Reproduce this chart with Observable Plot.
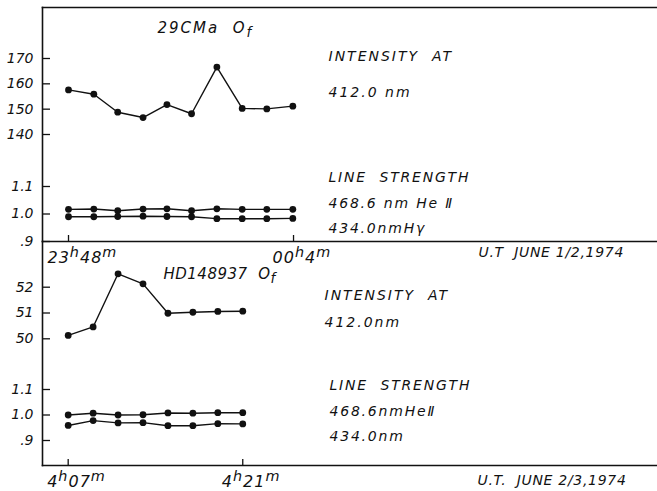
<!DOCTYPE html>
<html><head><meta charset="utf-8">
<script src="https://cdn.jsdelivr.net/npm/d3@7"></script>
<script src="https://cdn.jsdelivr.net/npm/@observablehq/plot@0.6"></script>
<style>
body{margin:0;background:#fff}
#chart{position:relative;width:657px;height:491px;background:#fff}
#chart svg{position:absolute;left:0;top:0}
</style></head><body><div id="chart"></div>
<script>
// ---- Panel A: 29 CMa, U.T. June 1/2, 1974 (minutes after 23h48m) ----
const timesA = [0, 1.8, 3.5, 5.3, 7.0, 8.75, 10.55, 12.35, 14.1, 15.95];
const intensityA = [157.6, 155.9, 148.8, 146.7, 151.8, 148.2, 166.6, 150.3, 150.1, 151.2];
const heIIA = [1.017, 1.018, 1.012, 1.018, 1.019, 1.012, 1.019, 1.017, 1.017, 1.017];
const hGammaA = [0.990, 0.990, 0.991, 0.992, 0.991, 0.990, 0.983, 0.983, 0.983, 0.984];
const xTicksA = [0, 16];
const xLabelsA = ["23{^h}48{^m}", "00{^h}4{^m}"];
const intTicksA = [140, 150, 160, 170];
const intLabelsA = ["140", "150", "160", "170"];
const strTicks = [0.9, 1.0, 1.1];
const strLabels = [".9", "1.0", "1.1"];
const titleA = "29CMa  O{_f}";
const noteIntA = "INTENSITY  AT\n412.0 nm";
const noteLineA = "LINE  STRENGTH\n468.6 nm He Ⅱ\n434.0nmHγ";
const dateA = "U.T  JUNE 1/2,1974";

// ---- Panel B: HD148937, U.T. June 2/3, 1974 (minutes after 4h07m) ----
const timesB = [0, 2, 4, 6, 8, 10, 12, 14];
const intensityB = [50.13, 50.46, 52.52, 52.13, 50.99, 51.03, 51.06, 51.07];
const heIIB = [1.000, 1.007, 1.000, 1.001, 1.008, 1.007, 1.009, 1.009];
const h434B = [0.959, 0.978, 0.969, 0.970, 0.958, 0.958, 0.966, 0.965];
const xTicksB = [0, 14];
const xLabelsB = ["4{^h}07{^m}", "4{^h}21{^m}"];
const intTicksB = [50, 51, 52];
const intLabelsB = ["50", "51", "52"];
const titleB = "HD148937  O{_f}";
const noteIntB = "INTENSITY  AT\n412.0nm";
const noteLineB = "LINE  STRENGTH\n468.6nmHeⅡ\n434.0nm";
const dateB = "U.T.  JUNE 2/3,1974";

const INK = "#111";
const W = 657, H = 491, LEFT = 42;
const rows = (times, vals) => times.map((t, i) => ({t, v: vals[i]}));
function seriesMarks(times, list) {
  return list.flatMap(vals => {
    const d = rows(times, vals);
    return [
      Plot.line(d, {x: "t", y: "v", stroke: INK, strokeWidth: 1.4}),
      Plot.dot(d, {x: "t", y: "v", r: 3.4, fill: INK, stroke: "none"})
    ];
  });
}
const labeler = (ticks, labels) => d => labels[ticks.indexOf(d)];
const baseStyle = {background: "transparent", overflow: "visible", fontFamily: "DejaVu Sans", fontSize: "14px", fontStyle: "italic", color: INK};
const spacing = [["JUNE", "0.7px"], ["CMa", "2px"], ["HD", "0.5px"], ["INTENSITY", "2px"], ["STRENGTH", "1.8px"], ["nm", "1.2px"], ["{^h}", "1px"]];

function rich(svg) {
  for (const t of svg.querySelectorAll("text")) {
    const s = t.textContent;
    const sp = spacing.find(([k]) => s.includes(k));
    if (sp) t.style.letterSpacing = sp[1];
    t.style.fontStyle = "italic";
    if (!/\{[\^_]/.test(s)) continue;
    const parts = s.split(/(\{[\^_][^}]*\})/).filter(p => p);
    t.textContent = "";
    let shift = 0;
    for (const p of parts) {
      const m = p.match(/^\{([\^_])(.*)\}$/);
      const ts = document.createElementNS("http://www.w3.org/2000/svg", "tspan");
      let target = 0;
      if (m) { target = m[1] === "^" ? -6 : 4; ts.textContent = m[2]; ts.style.fontSize = "0.9em"; }
      else ts.textContent = p;
      ts.setAttribute("dy", target - shift);
      shift = target;
      t.appendChild(ts);
    }
  }
  return svg;
}

function subplot(xDomain, top, bottom, yDomain, marks) {
  return Plot.plot({
    width: W, height: H,
    marginLeft: LEFT, marginRight: 0, marginTop: top, marginBottom: H - bottom,
    style: baseStyle,
    x: {domain: xDomain, axis: null},
    y: {domain: yDomain, axis: null},
    marks
  });
}
// y axis: labels outside, short ticks pointing into the plot
function yAxis(ticks, labels) {
  return [
    Plot.tickY(ticks, {y: d => d, insetRight: W - LEFT - 8, stroke: INK, strokeWidth: 1.3}),
    Plot.axisY({ticks, tickFormat: labeler(ticks, labels), tickSize: 0, tickPadding: 9, fill: INK, fontStyle: "italic", label: null})
  ];
}
// x axis: short upward ticks, labels below
function xAxes(ticks, labels, frameH) {
  return [
    Plot.tickX(ticks, {x: d => d, insetTop: frameH - 6, stroke: INK, strokeWidth: 1.3}),
    Plot.axisX({ticks, tickFormat: labeler(ticks, labels), tickSize: 0, tickPadding: 10, textAnchor: "start", dx: -21, fontSize: 16, fill: INK, label: null})
  ];
}
const txt = (s, dx, dy, o = {}) => Plot.text([s], {frameAnchor: "top-left", dx, dy, textAnchor: "start", lineAnchor: "middle", fill: INK, ...o});

// Panel A
const xDomA = [-1.849, 41.88];
const frameA = subplot(xDomA, 7, 241, [0, 1], [
  Plot.frame({anchor: "left", stroke: INK, strokeWidth: 1.6}),
  Plot.frame({anchor: "top", stroke: INK, strokeWidth: 1.6}),
  Plot.frame({anchor: "bottom", stroke: INK, strokeWidth: 1.6}),
  ...xAxes(xTicksA, xLabelsA, 241 - 7),
  txt(titleA, 115, 20.5, {fontSize: 15}),
  txt(noteIntA, 286, 60, {lineHeight: 2.57}),
  txt(noteLineA, 286, 192, {lineHeight: 1.79}),
  txt(dateA, 436, 245)
]);
const intA = subplot(xDomA, 58, 134, [140, 170], [
  ...yAxis(intTicksA, intLabelsA),
  ...seriesMarks(timesA, [intensityA])
]);
const strA = subplot(xDomA, 186, 241, [0.9, 1.1], [
  ...yAxis(strTicks, strLabels),
  ...seriesMarks(timesA, [heIIA, hGammaA])
]);

// Panel B
const xDomB = [-2.06, 47.26];
const frameB = subplot(xDomB, 241, 465, [0, 1], [
  Plot.frame({anchor: "left", stroke: INK, strokeWidth: 1.6}),
  Plot.frame({anchor: "bottom", stroke: INK, strokeWidth: 1.6}),
  ...xAxes(xTicksB, xLabelsB, 465 - 241),
  txt(titleB, 121, 33, {fontSize: 15}),
  txt(noteIntB, 282, 63.5, {lineHeight: 1.93}),
  txt(noteLineB, 287, 166, {lineHeight: 1.79}),
  txt(dateB, 435, 239)
]);
const intB = subplot(xDomB, 286.7, 338.3, [50, 52], [
  ...yAxis(intTicksB, intLabelsB),
  ...seriesMarks(timesB, [intensityB])
]);
const strB = subplot(xDomB, 389, 440, [0.9, 1.1], [
  ...yAxis(strTicks, strLabels),
  ...seriesMarks(timesB, [heIIB, h434B])
]);

const chart = document.getElementById("chart");
for (const p of [frameA, intA, strA, frameB, intB, strB]) chart.appendChild(rich(p));
</script></body></html>
